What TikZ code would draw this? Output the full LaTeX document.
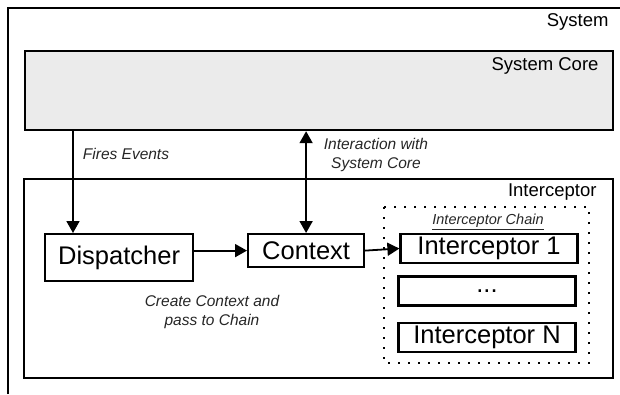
\documentclass[tikz,border=0pt]{standalone}
\usepackage{fontspec}
\setmainfont{Liberation Sans}
\usepackage{tikz}
\usetikzlibrary{arrows.meta,positioning}

\begin{document}
\begin{tikzpicture}[x=1pt, y=-1pt, >={Triangle[length=12pt,width=13pt]}]
        \tikzstyle{frame}=[rectangle, draw=black, line width=2.2pt, anchor=north west, inner sep=0pt]
        \tikzstyle{box}=[rectangle, draw=black, line width=2.2pt, inner sep=0pt, font=\fontsize{25.5}{25.5}\selectfont]
        \tikzstyle{chainbox}=[box, minimum width=177pt, minimum height=29pt]
        \tikzstyle{title}=[font=\fontsize{18.5}{18.5}\selectfont, anchor=east]
        \tikzstyle{note}=[font=\fontsize{15.5}{19}\itshape, align=center, text=black!85]
        \tikzstyle{flow}=[line width=1.8pt, ->]
        \useasboundingbox (0,0) rectangle (620,394);

        % outer system, cut off at the right and bottom
        \draw[line width=2.2pt] (8,394) -- (8,8) -- (620,8);
        \node[title] (lsys) at (612,22) {System};

        % system core and interceptor frames
        \node[frame, fill=black!8, minimum width=588pt, minimum height=79pt] (core) at (24,50) {};
        \node[title] (lcore) at (602,66) {System Core};
        \node[frame, minimum width=589pt, minimum height=199pt] (icpt) at (23,178) {};
        \node[title] (licpt) at (600,192) {Interceptor};

        % dispatcher and context
        \node[box, anchor=north west, minimum width=148pt, minimum height=47pt] (disp) at (44,233) {Dispatcher};
        \node[box, anchor=north west, minimum width=116pt, minimum height=33pt] (ctx) at (247,233) {Context};

        % interceptor chain
        \draw[line width=1.8pt, dash pattern=on 1.8pt off 8.2pt] (384,207) rectangle (589,363);
        \node[note, font=\fontsize{14.5}{14.5}\itshape] (lchain) at (488,222) {\underline{Interceptor Chain}};
        \node[chainbox] (int1) at (489,248.5) {Interceptor 1};
        \node[chainbox] (intx) at (487,291) {...};
        \node[chainbox] (intn) at (487,337.5) {Interceptor N};

        % connectors
        \draw[flow] ([xshift=29pt]disp.north west |- core.south) -- ([xshift=29pt]disp.north west);
        \draw[flow, <->] (ctx.north) -- (ctx.north |- core.south);
        \draw[flow] (disp.east |- ctx.west) -- (ctx.west);
        \draw[flow] (ctx.east) -- (int1.west);

        \node[note] (lfire) at (126,154) {Fires Events};
        \node[note] (linter) at (376,155) {Interaction with\\System Core};
        \node[note] (lpass) at (212,312) {Create Context and\\pass to Chain};
    \end{tikzpicture}
\end{document}
